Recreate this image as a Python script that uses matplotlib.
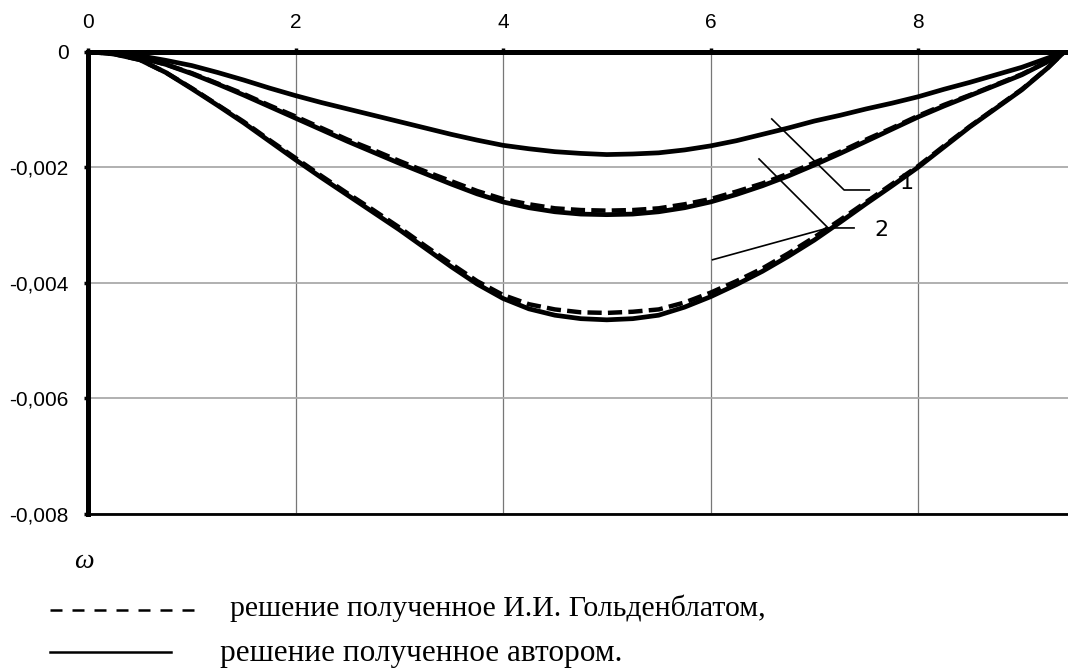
import matplotlib
matplotlib.use("Agg")
import matplotlib.pyplot as plt
import numpy as np
from matplotlib.lines import Line2D

# deflection along the span (units of 1e-5)
x_vals = [0, 0.25, 0.5, 0.75, 1, 1.25, 1.5, 1.75, 2, 2.25, 2.5, 2.75, 3, 3.25, 3.5, 3.75,
          4, 4.25, 4.5, 4.75, 5, 5.25, 5.5, 5.75, 6, 6.25, 6.5, 6.75, 7, 7.25, 7.5, 7.75,
          8, 8.25, 8.5, 8.75, 9, 9.25, 9.41]
w_top = np.array([0, -2, -7, -15, -24, -36, -49, -63, -76, -88, -99, -110, -121, -132, -143,
                  -153, -162, -168, -173, -176, -178, -177, -175, -170, -163, -154, -143, -132,
                  -120, -110, -99, -89, -78, -65, -53, -40, -27, -11, 0]) * 1e-5
w_mid_author = np.array([0, -3, -10, -22, -38, -56, -75, -95, -115, -135, -155, -174, -193,
                         -211, -229, -246, -260, -270, -277, -281, -282, -281, -277, -270,
                         -260, -247, -232, -215, -196, -176, -155, -134, -113, -94, -76, -58,
                         -40, -17, 0]) * 1e-5
w_mid_gold = np.array([0, -3, -10, -22, -37, -55, -73, -93, -112, -132, -152, -170, -189,
                       -207, -224, -241, -255, -264, -271, -274, -275, -274, -271, -264, -255,
                       -242, -228, -211, -192, -173, -152, -132, -111, -92, -75, -57, -39,
                       -17, 0]) * 1e-5
w_bot_author = np.array([0, -4, -14, -36, -64, -93, -123, -155, -187, -218, -248, -278, -308,
                         -340, -372, -402, -427, -445, -456, -462, -464, -462, -456, -442,
                         -424, -403, -380, -354, -326, -295, -263, -232, -200, -165, -130,
                         -98, -66, -28, 0]) * 1e-5
w_bot_gold = np.array([0, -4, -14, -36, -63, -92, -121, -153, -184, -215, -245, -274, -304,
                       -336, -367, -397, -421, -437, -446, -451, -452, -450, -446, -434, -417,
                       -397, -375, -349, -321, -291, -260, -229, -198, -163, -129, -97, -65,
                       -28, 0]) * 1e-5

x_ticks = [0, 2, 4, 6, 8]
y_ticks = [0, -0.002, -0.004, -0.006, -0.008]
y_tick_labels = ["0", "-0,002", "-0,004", "-0,006", "-0,008"]

W, H = 1068, 668
fig = plt.figure(figsize=(W / 100, H / 100), dpi=100)
ax = fig.add_axes([88 / W, 1 - 514 / H, (W - 88) / W, (514 - 51.7) / H])

for w in (w_top, w_mid_author, w_bot_author):
    ax.plot(x_vals, w, color="black", lw=3.4, solid_joinstyle="round", zorder=3)
for w in (w_mid_gold, w_bot_gold):
    ax.plot(x_vals, w, color="black", lw=3.2, ls=(0, (3.2, 1.4)), zorder=4)

ax.set_xlim(0, 9.445)
ax.set_ylim(-0.008, 0)

ax.xaxis.tick_top()
ax.set_xticks(x_ticks, [str(t) for t in x_ticks])
ax.set_yticks(y_ticks, y_tick_labels)
ax.tick_params(axis="both", direction="out", length=3, width=2.5, color="black",
               labelsize=15, pad=11)
for lab in ax.get_xticklabels() + ax.get_yticklabels():
    lab.set_family("Liberation Sans")

ax.grid(True, axis="x", color="#777777", lw=0.9, zorder=1)
ax.grid(True, axis="y", color="#aaaaaa", lw=1.3, zorder=1)

ax.spines["right"].set_visible(False)
ax.spines["top"].set_linewidth(3.6)
ax.spines["left"].set_linewidth(3.6)
ax.spines["bottom"].set_linewidth(2.0)
for s in ax.spines.values():
    s.set_zorder(5)

# leader lines for curve labels
lead = dict(color="black", lw=1.2, clip_on=False, zorder=6)
ax.plot([6.59, 7.287, 7.53], [-0.001164, -0.002393, -0.002393], **lead)
ax.plot([6.467, 7.133, 7.383], [-0.001856, -0.003050, -0.003050], **lead)
ax.plot([6.02, 7.133], [-0.003600, -0.003050], **lead)
ax.text(7.89, -0.00227, "1", fontsize=16, ha="center", va="center", family="DejaVu Sans")
ax.text(7.65, -0.00308, "2", fontsize=16, ha="center", va="center", family="DejaVu Sans")

# caption below the chart
fig.text(84 / W, 1 - 562 / H, "ω", fontsize=20, style="italic", family="Liberation Serif",
         ha="center", va="center")
fig.add_artist(Line2D([50 / W, 194 / W], [1 - 610 / H, 1 - 610 / H], color="black", lw=1.8,
                      ls=(0, (4.8, 4.0)), transform=fig.transFigure))
fig.add_artist(Line2D([50 / W, 171 / W], [1 - 652 / H, 1 - 652 / H], color="black", lw=1.8,
                      transform=fig.transFigure))
fig.text(230 / W, 1 - 608 / H, "решение полученное И.И. Гольденблатом,", fontsize=21.5,
         family="Liberation Serif", ha="left", va="center")
fig.text(220 / W, 1 - 653 / H, "решение полученное автором.", fontsize=22.5,
         family="Liberation Serif", ha="left", va="center")

fig.savefig("out.png", dpi=100)
